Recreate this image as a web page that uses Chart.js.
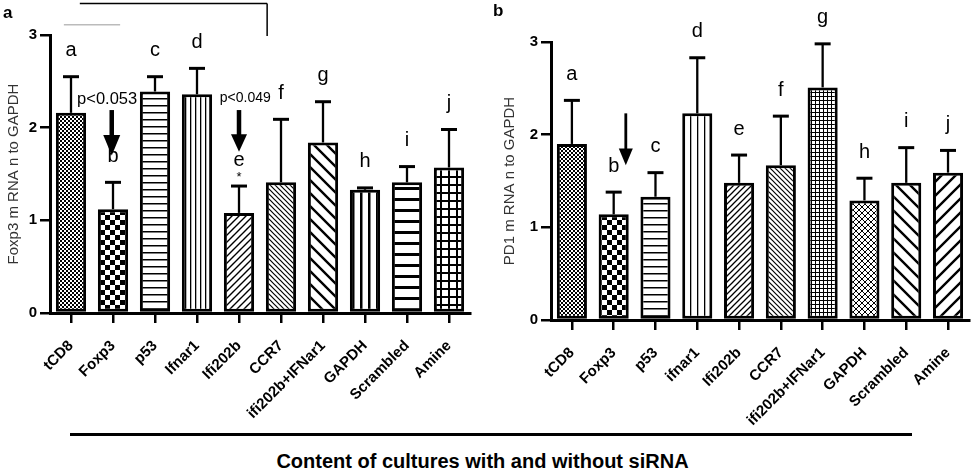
<!DOCTYPE html>
<html>
<head>
<meta charset="utf-8">
<script src="https://cdn.jsdelivr.net/npm/chart.js@4.4.0/dist/chart.umd.min.js"></script>
<style>
  body { margin: 0; background: #fff; font-family: "Liberation Sans", Arial, sans-serif; }
  #wrap { position: relative; width: 975px; height: 472px; overflow: hidden; background: #fff; }
  #boxA { position: absolute; left: 0; top: 0; }
  #boxB { position: absolute; left: 487px; top: 0; }
  .panel { position: absolute; font-weight: bold; font-size: 17px; line-height: 1; }
  #rule { position: absolute; left: 70px; top: 433px; width: 842px; height: 2.5px; background: #000; }
  #xtitle { position: absolute; left: 0; width: 965px; top: 450px; text-align: center; font-weight: bold; font-size: 20px; }
</style>
</head>
<body>
<div id="wrap">
  <canvas id="boxA" width="487" height="432"></canvas>
  <canvas id="boxB" width="488" height="432"></canvas>
  <div class="panel" style="left:3px;top:4px">a</div>
  <div class="panel" style="left:493px;top:2px">b</div>
  <div id="rule"></div>
  <div id="xtitle">Content of cultures with and without siRNA</div>
</div>
<script>
// categories (x tick labels)
const categoriesA = ["tCD8", "Foxp3", "p53", "Ifnar1", "Ifi202b", "CCR7", "ifi202b+IFNar1", "GAPDH", "Scrambled", "Amine"];
const categoriesB = ["tCD8", "Foxp3", "p53", "ifnar1", "Ifi202b", "CCR7", "ifi202b+IFNar1", "GAPDH", "Scrambled", "Amine"];

// panel a: Foxp3 mRNA, mean and upper error
const foxp3Mean = [2.16, 1.12, 2.39, 2.36, 1.08, 1.41, 1.84, 1.33, 1.41, 1.57];
const foxp3Sem  = [0.39, 0.29, 0.16, 0.28, 0.29, 0.68, 0.44, 0.02, 0.17, 0.41];

// panel b: PD1 mRNA, mean and upper error
const pd1Mean = [1.90, 1.14, 1.33, 2.23, 1.48, 1.67, 2.51, 1.29, 1.48, 1.59];
const pd1Sem  = [0.47, 0.24, 0.26, 0.60, 0.30, 0.53, 0.47, 0.24, 0.38, 0.24];

const barLetters = ["a", "b", "c", "d", "e", "f", "g", "h", "i", "j"];
const yTicks = [0, 1, 2, 3];

const FONT = '"Liberation Sans", Arial, sans-serif';
Chart.defaults.font.family = FONT;
Chart.defaults.color = "#000";

// fill patterns for the bars
function makePattern(kind) {
  const c = document.createElement("canvas");
  const sizes = { dots: 4, checker: 10, hlines: 7, hthick: 11, vlines: 5, vlines7: 7, vwide: 8,
                  diagF: 7, diagF6: 6, diagB: 5, diagBwide: 13, diagFwide: 14, diagBwide14: 14,
                  grid: 8, finegrid: 4, cross: 6 };
  const s = sizes[kind];
  c.width = s; c.height = s;
  const g = c.getContext("2d");
  g.fillStyle = "#fff"; g.fillRect(0, 0, s, s);
  g.fillStyle = "#000"; g.strokeStyle = "#000";
  const fwd = (w) => {
    g.lineWidth = w; g.beginPath();
    g.moveTo(0, s); g.lineTo(s, 0);
    g.moveTo(-1, 1); g.lineTo(1, -1);
    g.moveTo(s - 1, s + 1); g.lineTo(s + 1, s - 1);
    g.stroke();
  };
  const back = (w) => {
    g.lineWidth = w; g.beginPath();
    g.moveTo(0, 0); g.lineTo(s, s);
    g.moveTo(-1, s - 1); g.lineTo(1, s + 1);
    g.moveTo(s - 1, -1); g.lineTo(s + 1, 1);
    g.stroke();
  };
  switch (kind) {
    case "dots": g.fillRect(0, 0, 2, 2); g.fillRect(2, 2, 2, 2); break;
    case "checker": g.fillRect(0, 0, 5, 5); g.fillRect(5, 5, 5, 5); break;
    case "hlines": g.fillRect(0, 0, s, 1.5); break;
    case "hthick": g.fillRect(0, 0, s, 3); break;
    case "vlines": g.fillRect(0, 0, 1.3, s); break;
    case "vlines7": g.fillRect(0, 0, 1.3, s); break;
    case "vwide": g.fillRect(0, 0, 2.5, s); break;
    case "diagF": fwd(1.4); break;
    case "diagF6": fwd(1.3); break;
    case "diagB": back(1.2); break;
    case "diagBwide": back(2.4); break;
    case "diagBwide14": back(2.4); break;
    case "diagFwide": fwd(2.4); break;
    case "grid": g.fillRect(0, 0, s, 2); g.fillRect(0, 0, 2, s); break;
    case "finegrid": g.fillRect(0, 0, s, 1); g.fillRect(0, 0, 1, s); break;
    case "cross": fwd(1); back(1); break;
  }
  return g.createPattern(c, "repeat");
}

const fillsA = ["dots", "checker", "hlines", "vlines", "diagF", "diagB", "diagBwide", "vwide", "hthick", "grid"].map(makePattern);
const fillsB = ["dots", "checker", "hlines", "vlines7", "diagF6", "diagB", "finegrid", "cross", "diagBwide14", "diagFwide"].map(makePattern);

// error bars, letters and other marks drawn on top of the bars
const marksPlugin = {
  id: "marks",
  afterDatasetsDraw(chart, args, opts) {
    const ctx = chart.ctx;
    const xs = chart.scales.x, ys = chart.scales.y;
    const meta = chart.getDatasetMeta(0);
    const mean = chart.data.datasets[0].data;
    ctx.save();
    ctx.fillStyle = "#000";
    ctx.strokeStyle = "#000";
    meta.data.forEach((bar, i) => {
      const yTop = ys.getPixelForValue(mean[i] + opts.sem[i]);
      ctx.lineWidth = 2.3;
      ctx.beginPath();
      ctx.moveTo(bar.x, bar.y);
      ctx.lineTo(bar.x, yTop);
      ctx.stroke();
      ctx.lineWidth = 3;
      ctx.beginPath();
      ctx.moveTo(bar.x - 8, yTop);
      ctx.lineTo(bar.x + 8, yTop);
      ctx.stroke();
      ctx.font = "20px " + FONT;
      ctx.textAlign = "center";
      ctx.textBaseline = "middle";
      ctx.fillText(opts.letters[i], bar.x, yTop - 26);
    });
    (opts.arrows || []).forEach(a => {
      const x = xs.getPixelForValue(a.at);
      const y0 = ys.getPixelForValue(a.from);
      const yh = ys.getPixelForValue(a.head);
      const yt = ys.getPixelForValue(a.to);
      ctx.fillRect(x - a.shaft / 2, y0, a.shaft, yh - y0 + 1);
      ctx.beginPath();
      ctx.moveTo(x - a.width / 2, yh);
      ctx.lineTo(x + a.width / 2, yh);
      ctx.lineTo(x, yt);
      ctx.closePath();
      ctx.fill();
    });
    (opts.notes || []).forEach(n => {
      ctx.font = n.size + "px " + FONT;
      ctx.textAlign = "center";
      ctx.textBaseline = "middle";
      ctx.fillText(n.text, xs.getPixelForValue(n.at), ys.getPixelForValue(n.y));
    });
    (opts.lines || []).forEach(l => {
      ctx.strokeStyle = l.color;
      ctx.lineWidth = 1.5;
      ctx.beginPath();
      ctx.moveTo(xs.getPixelForValue(l.x0), ys.getPixelForValue(l.y0));
      ctx.lineTo(xs.getPixelForValue(l.x1), ys.getPixelForValue(l.y1));
      ctx.stroke();
    });
    ctx.restore();
  }
};

function buildPanel(id, labels, mean, sem, fills, yTitle, box, marks) {
  return new Chart(document.getElementById(id), {
    type: "bar",
    data: {
      labels: labels,
      datasets: [{
        data: mean,
        backgroundColor: fills,
        borderColor: "#000",
        borderWidth: 3,
        borderSkipped: false,
        barPercentage: 0.72,
        categoryPercentage: 1
      }]
    },
    options: {
      responsive: false,
      animation: false,
      layout: { padding: box.padding },
      plugins: {
        legend: { display: false },
        tooltip: { enabled: false },
        marks: Object.assign({ sem: sem, letters: barLetters }, marks)
      },
      scales: {
        x: {
          offset: true,
          afterFit(s) { s.height = box.xHeight; },
          grid: { offset: false, drawOnChartArea: false, drawTicks: true, tickLength: 10, lineWidth: 2.5, color: "#000" },
          border: { display: true, width: 3, color: "#000" },
          ticks: { autoSkip: false, maxRotation: 45, minRotation: 45, padding: 14, color: "#000", font: { size: 15, weight: "bold" } }
        },
        y: {
          min: 0,
          max: 3,
          afterFit(s) { s.width = box.yWidth; },
          afterBuildTicks(s) { s.ticks = yTicks.map(v => ({ value: v })); },
          grid: { drawOnChartArea: false, drawTicks: true, tickLength: 10, lineWidth: 2.5, color: "#000" },
          border: { display: true, width: 3, color: "#000" },
          ticks: { padding: 3, color: "#000", font: { size: 15, weight: "bold" } },
          title: { display: true, text: yTitle, color: "#333", font: { size: 15 }, padding: { top: 5, bottom: 0 } }
        }
      }
    },
    plugins: [marksPlugin]
  });
}

buildPanel("boxA", categoriesA, foxp3Mean, foxp3Sem, fillsA, "Foxp3 m RNA n to GAPDH",
  { padding: { top: 35, left: 0, right: 17, bottom: 0 }, xHeight: 119, yWidth: 50 },
  {
    arrows: [
      { at: 0.97, from: 2.19, head: 1.92, to: 1.70, shaft: 4.5, width: 17 },
      { at: 4.0, from: 2.19, head: 1.93, to: 1.74, shaft: 4.5, width: 16 }
    ],
    notes: [
      { text: "p<0.053", at: 0.86, y: 2.30, size: 16.5 },
      { text: "p<0.049", at: 4.15, y: 2.32, size: 14 },
      { text: "*", at: 4.0, y: 1.46, size: 13 }
    ],
    lines: [
      { x0: 0.21, y0: 3.34, x1: 4.67, y1: 3.34, color: "#000" },
      { x0: 4.67, y0: 3.34, x1: 4.67, y1: 2.99, color: "#000" },
      { x0: -0.17, y0: 3.11, x1: 1.17, y1: 3.11, color: "#bbb" }
    ]
  });

buildPanel("boxB", categoriesB, pd1Mean, pd1Sem, fillsB, "PD1 m RNA n to GAPDH",
  { padding: { top: 42, left: 9, right: 5, bottom: 0 }, xHeight: 112, yWidth: 55 },
  {
    arrows: [
      { at: 1.29, from: 2.23, head: 1.85, to: 1.67, shaft: 2.8, width: 14 }
    ]
  });
</script>
</body>
</html>
